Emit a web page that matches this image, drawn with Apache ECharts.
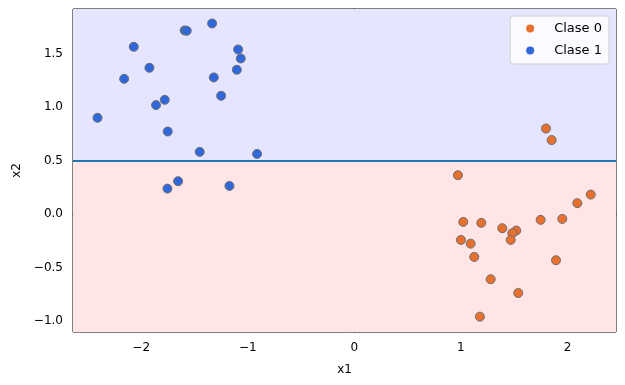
<!DOCTYPE html>
<html><head><meta charset="utf-8">
<script src="https://cdn.jsdelivr.net/npm/echarts@6/dist/echarts.min.js"></script>
<style>html,body{margin:0;padding:0;background:#fff}#c{width:625px;height:385px}</style>
</head><body><div id="c"></div>
<script>
const clase0X = [1.798, 1.851, 0.972, 2.218, 2.092, 1.951, 1.748, 1.022, 1.191, 1.388, 1.519, 1.482, 1.467, 1.000, 1.091, 1.125, 1.892, 1.279, 1.538, 1.178];
const clase0Y = [0.800, 0.692, 0.364, 0.183, 0.103, -0.044, -0.053, -0.072, -0.081, -0.131, -0.153, -0.178, -0.240, -0.240, -0.275, -0.399, -0.430, -0.607, -0.736, -0.957];
const clase1X = [-2.41, -2.16, -2.07, -1.923, -1.861, -1.779, -1.751, -1.592, -1.573, -1.335, -1.319, -1.25, -1.451, -1.091, -1.066, -1.103, -0.913, -1.754, -1.654, -1.172];
const clase1Y = [0.90, 1.264, 1.563, 1.367, 1.019, 1.068, 0.772, 1.716, 1.713, 1.781, 1.277, 1.106, 0.582, 1.538, 1.454, 1.349, 0.563, 0.239, 0.308, 0.264];
const xTicks = [-2, -1, 0, 1, 2];
const yTicks = [-1.0, -0.5, 0.0, 0.5, 1.0, 1.5];
const boundaryY = 0.5;
const xRange = [-2.64, 2.455];
const yRange = [-1.10, 1.916];

const fmt = (v, d) => { const s = Math.abs(v).toFixed(d); return v < 0 ? '\u2212' + s : s; };
const font = 'DejaVu Sans';
const chart = echarts.init(document.getElementById('c'));
chart.setOption({
  animation: false,
  textStyle: { fontFamily: font },
  grid: { left: 73, right: 9, top: 9, bottom: 53, show: true, borderColor: '#000', borderWidth: 1, backgroundColor: 'transparent' },
  legend: {
    orient: 'vertical', right: 16, top: 16,
    data: ['Clase 0', 'Clase 1'],
    icon: 'circle', itemWidth: 8, itemHeight: 8, itemGap: 7,
    backgroundColor: 'rgba(255,255,255,0.8)', borderColor: '#d0d0d0', borderWidth: 1, borderRadius: 3,
    padding: [5, 7, 6, 16],
    textStyle: { fontFamily: font, fontSize: 13, color: '#000', padding: [0, 0, 0, 15], lineHeight: 15 },
    itemStyle: { borderWidth: 0 }
  },
  xAxis: {
    type: 'value', min: xRange[0], max: xRange[1],
    name: 'x1', nameLocation: 'middle', nameGap: 32,
    nameTextStyle: { fontFamily: font, fontSize: 12, color: '#000' },
    axisLine: { show: true, lineStyle: { color: '#000' } },
    axisTick: { show: true, customValues: xTicks, length: 4, lineStyle: { color: '#000' } },
    axisLabel: { customValues: xTicks, formatter: v => fmt(v, 0), fontFamily: font, fontSize: 12, color: '#000', margin: 10 },
    splitLine: { show: false }
  },
  yAxis: {
    type: 'value', min: yRange[0], max: yRange[1],
    name: 'x2', nameLocation: 'middle', nameGap: 50, nameRotate: 90,
    nameTextStyle: { fontFamily: font, fontSize: 12, color: '#000' },
    axisLine: { show: true, lineStyle: { color: '#000' } },
    axisTick: { show: true, customValues: yTicks, length: 4, lineStyle: { color: '#000' } },
    axisLabel: { customValues: yTicks, formatter: v => fmt(v, 1), fontFamily: font, fontSize: 12, color: '#000', margin: 10 },
    splitLine: { show: false }
  },
  series: [
    {
      name: 'Clase 0', type: 'scatter', symbolSize: 9,
      data: clase0X.map((x, i) => [x, clase0Y[i]]),
      itemStyle: { color: '#e8702e', borderColor: '#6e6e6e', borderWidth: 1, opacity: 1 },
      markArea: {
        silent: true,
        data: [
          [{ yAxis: boundaryY, itemStyle: { color: '#e5e5ff' } }, { yAxis: yRange[1] }],
          [{ yAxis: yRange[0], itemStyle: { color: '#ffe5e5' } }, { yAxis: boundaryY }]
        ]
      },
      markLine: {
        silent: true, symbol: ['none', 'none'], label: { show: false },
        lineStyle: { color: '#1f77b4', width: 2, type: 'solid' },
        data: [{ yAxis: boundaryY }]
      }
    },
    {
      name: 'Clase 1', type: 'scatter', symbolSize: 9,
      data: clase1X.map((x, i) => [x, clase1Y[i]]),
      itemStyle: { color: '#3068dc', borderColor: '#6e6e6e', borderWidth: 1, opacity: 1 }
    }
  ]
});
</script></body></html>
